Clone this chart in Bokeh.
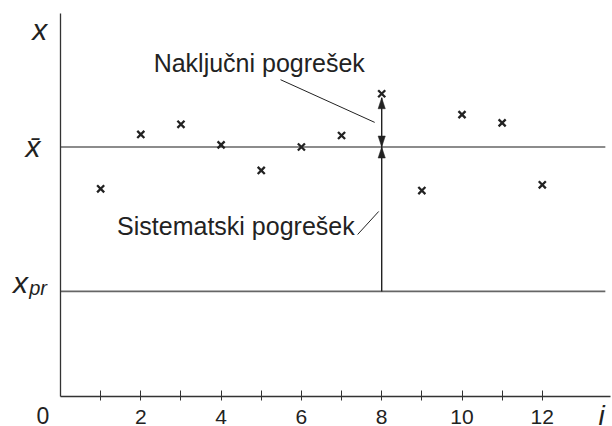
from bokeh.plotting import figure
from bokeh.models import Label, FixedTicker, Range1d
from bokeh.embed import file_html
from bokeh.resources import INLINE

# ---- data ----
i_values = [1, 2, 3, 4, 5, 6, 7, 8, 9, 10, 11, 12]
x_values = [5.77, 7.28, 7.56, 6.99, 6.28, 6.93, 7.25, 8.41, 5.72, 7.83, 7.60, 5.88]
x_mean = 6.93
x_true = 2.92
tick_positions = [1, 2, 3, 4, 5, 6, 7, 8, 9, 10, 11, 12]
tick_labels = {k: (str(k) if k % 2 == 0 else "") for k in tick_positions}
highlight_i = 8
label_random = "Naključni pogrešek"
label_system = "Sistematski pogrešek"

# ---- layout ----
W, H = 612, 426
px_x = 40.15          # pixels per unit of i
px_y = 36.0           # pixels per unit of x
AX_X, AX_Y = 60, 396  # pixel position of the origin inside the canvas
AXIS_TOP = 10.64
X_MIN = -AX_X / px_x
X_MAX = (W - AX_X) / px_x
Y_MIN = -(H - AX_Y) / px_y
Y_MAX = AX_Y / px_y
LINE_END = 13.57
DY = 9.5 / px_y       # label baseline correction (move up)

INK = "#222222"
FONT = "Liberation Sans"

p = figure(width=W, height=H, x_range=Range1d(X_MIN, X_MAX), y_range=Range1d(Y_MIN, Y_MAX),
           output_backend="svg", toolbar_location=None,
           min_border_left=0, min_border_top=0, min_border_right=0, min_border_bottom=0)
p.outline_line_color = None
p.grid.visible = False
p.background_fill_color = "white"
p.border_fill_color = "white"

# x axis (fixed at x = 0 level)
xa = p.xaxis[0]
xa.fixed_location = 0
xa.bounds = (0, 13.7)
xa.ticker = FixedTicker(ticks=tick_positions)
xa.major_label_overrides = tick_labels
xa.minor_tick_line_color = None
xa.major_tick_in = 6
xa.major_tick_out = 4
xa.major_tick_line_color = "#333333"
xa.major_tick_line_width = 1
xa.axis_line_color = "#333333"
xa.axis_line_width = 1.3
xa.major_label_text_font = FONT
xa.major_label_text_font_size = "21px"
xa.major_label_text_color = INK
xa.major_label_standoff = 9

# y axis: only the line
ya = p.yaxis[0]
ya.fixed_location = 0
ya.bounds = (0, AXIS_TOP)
ya.ticker = FixedTicker(ticks=[])
ya.axis_line_color = "#333333"
ya.axis_line_width = 1.3

# horizontal reference lines (mean and true value)
p.segment(x0=[0, 0], y0=[x_mean, x_true], x1=[LINE_END, LINE_END], y1=[x_mean, x_true],
          line_color="#666666", line_width=1.6)

# measurements
p.scatter(i_values, x_values, marker="x", size=10, line_width=2.3, line_color=INK)

# arrows at highlighted point
xv = x_values[i_values.index(highlight_i)]
tip_top = xv - 4 / px_y
p.segment(x0=[highlight_i, highlight_i], y0=[x_true, x_mean],
          x1=[highlight_i, highlight_i], y1=[x_mean, tip_top],
          line_color=INK, line_width=1.4)
L = 11 / px_y
hw = 3.6 / px_x
heads_x, heads_y = [], []
for tip, direction in ((x_mean, 1), (x_mean, -1), (tip_top, 1)):
    base = tip - direction * L
    heads_x.append([highlight_i, highlight_i - hw, highlight_i + hw])
    heads_y.append([tip, base, base])
p.patches(heads_x, heads_y, fill_color=INK, line_color=INK, line_width=0.5)

# leader lines
mid_random = (x_mean + tip_top) / 2
p.segment(x0=[5.48, 7.40], y0=[8.80, 4.50],
          x1=[highlight_i - 7 / px_x, highlight_i - 3 / px_x], y1=[mid_random, 5.14],
          line_color=INK, line_width=1)

# annotation texts
p.add_layout(Label(x=2.32, y=9.0 + DY, text=label_random, text_font=FONT, text_font_size="25px",
                   text_color=INK, text_baseline="alphabetic"))
p.add_layout(Label(x=1.41, y=4.47 + DY, text=label_system, text_font=FONT, text_font_size="25px",
                   text_color=INK, text_baseline="alphabetic"))

# axis symbols
def sym(x, y, t, size, align="left"):
    p.add_layout(Label(x=x, y=y + DY, text=t, text_font=FONT, text_font_size=size,
                       text_font_style="italic", text_color=INK,
                       text_baseline="alphabetic", text_align=align))

sym(-0.705, 9.92, "x", "30px")
sym(-0.87, 6.675, "x\u0304", "30px")
sym(-1.18, 2.90, "x", "30px")
sym(-0.78, 2.75, "pr", "20px")
sym(13.40, -0.78, "i", "28px")
p.add_layout(Label(x=-0.44, y=-0.80 + DY, text="0", text_font=FONT, text_font_size="23px",
                   text_color=INK, text_baseline="alphabetic", text_align="center"))

open("out.html", "w").write(file_html(p, INLINE))
